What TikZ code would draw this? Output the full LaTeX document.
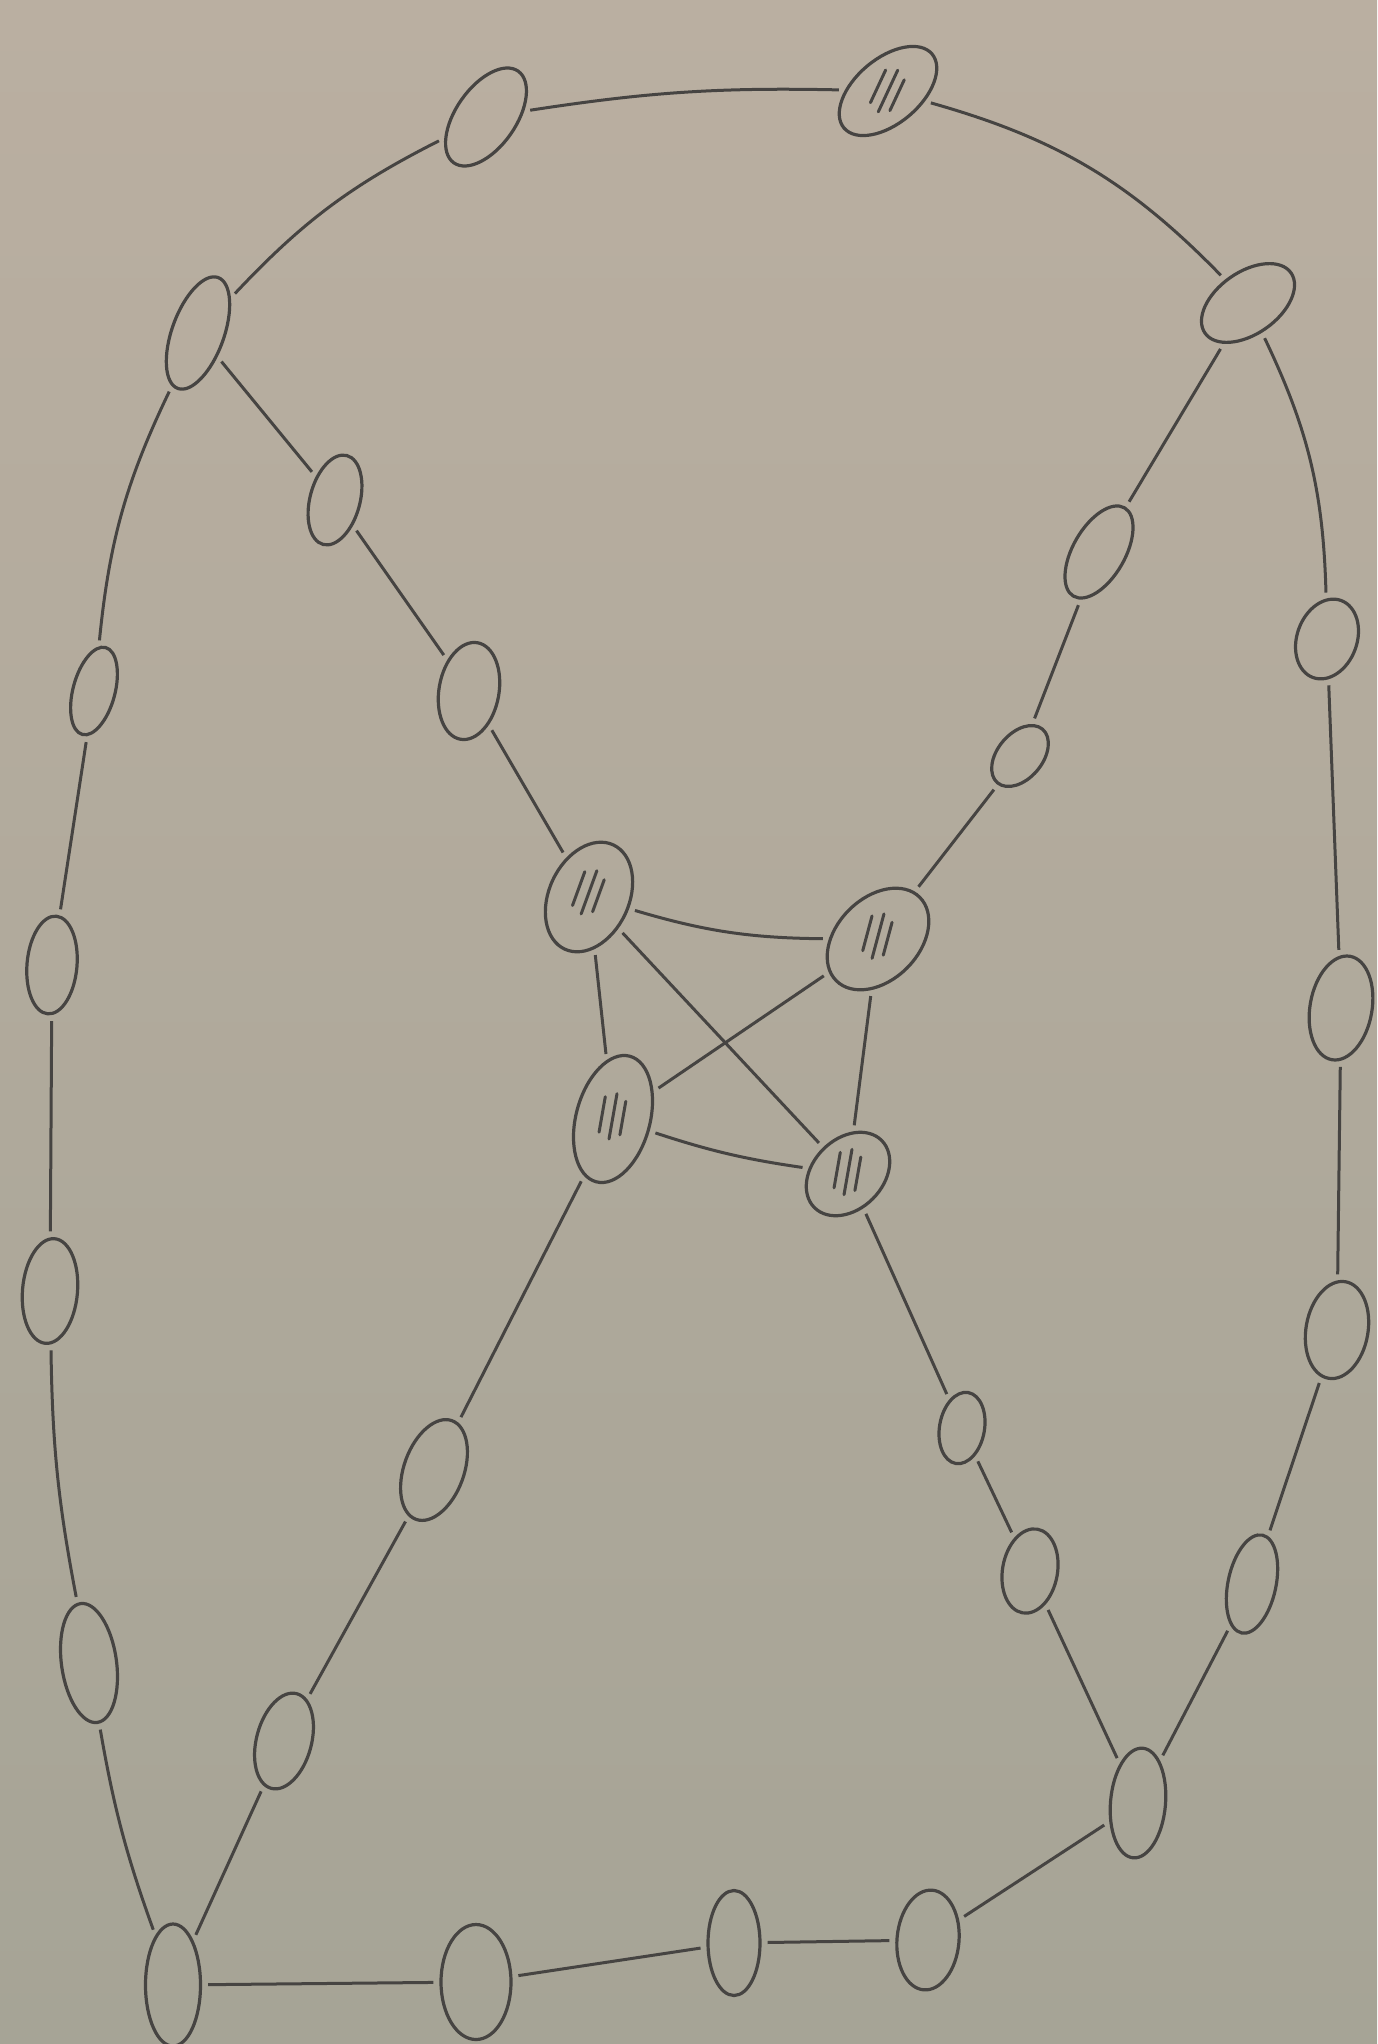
\documentclass[tikz,border=0pt]{standalone}
\usetikzlibrary{shapes.geometric}
\definecolor{ink}{RGB}{70,68,66}
\definecolor{papertop}{RGB}{186,175,161}
\definecolor{paperbot}{RGB}{166,164,150}
\begin{document}
\begin{tikzpicture}[x=0.5pt,y=-0.5pt,
  nd/.style={ellipse, draw=ink, line width=1.6pt, inner sep=0pt},
  sz/.style 2 args={minimum width=#1*0.5pt, minimum height=#2*0.5pt},
  hatch/.style={path picture={\draw[ink,line width=1.5pt,line cap=round]
     ([shift={(#1:-5.5pt)},shift={(270+#1:9pt)}]path picture bounding box.center) -- ++(90+#1:18pt)
     ([shift={(270+#1:11.5pt)}]path picture bounding box.center) -- ++(90+#1:23pt)
     ([shift={(#1:5pt)},shift={(270+#1:8.5pt)}]path picture bounding box.center) -- ++(90+#1:17pt);}},
  ed/.style={draw=ink, line width=1.5pt, shorten <=3pt, shorten >=3pt}]
\shade[top color=papertop, bottom color=paperbot] (0,0) rectangle (1377,2044);
\useasboundingbox (0,0) rectangle (1377,2044);
% nodes
\node[nd, sz={60}{112}, rotate=-35] (n1) at (486,117) {};
\node[nd, hatch=25, sz={65}{115}, rotate=-50] (n2) at (888,91) {};
\node[nd, sz={62}{105}, rotate=-55] (n3) at (1248,303) {};
\node[nd, sz={52}{118}, rotate=-20] (n4) at (198,333) {};
\node[nd, sz={50}{92}, rotate=-15] (n5) at (335,500) {};
\node[nd, sz={52}{102}, rotate=-30] (n6) at (1099,552) {};
\node[nd, sz={60}{82}, rotate=-20] (n7) at (1327,639) {};
\node[nd, sz={42}{90}, rotate=-15] (n8) at (94,691) {};
\node[nd, sz={60}{98}, rotate=-10] (n9) at (469,691) {};
\node[nd, sz={45}{70}, rotate=-40] (n10) at (1020,756) {};
\node[nd, hatch=5, sz={80}{115}, rotate=-25] (n11) at (589,897) {};
\node[nd, hatch=30, sz={82}{118}, rotate=-45] (n12) at (878,939) {};
\node[nd, sz={50}{98}, rotate=-5] (n13) at (52,965) {};
\node[nd, sz={62}{105}, rotate=-10] (n14) at (1341,1008) {};
\node[nd, hatch=5, sz={74}{130}, rotate=-15] (n15) at (613,1119) {};
\node[nd, hatch=35, sz={70}{95}, rotate=-45] (n16) at (848,1174) {};
\node[nd, sz={55}{105}, rotate=-5] (n17) at (50,1291) {};
\node[nd, sz={62}{98}, rotate=-10] (n18) at (1337,1330) {};
\node[nd, sz={45}{72}, rotate=-10] (n19) at (962,1428) {};
\node[nd, sz={60}{105}, rotate=-20] (n20) at (434,1470) {};
\node[nd, sz={55}{85}, rotate=-10] (n21) at (1030,1571) {};
\node[nd, sz={48}{100}, rotate=-12] (n22) at (1252,1584) {};
\node[nd, sz={55}{120}, rotate=8] (n23) at (89,1663) {};
\node[nd, sz={55}{98}, rotate=-15] (n24) at (284,1741) {};
\node[nd, sz={55}{110}, rotate=-5] (n25) at (1138,1803) {};
\node[nd, sz={55}{122}, rotate=0] (n26) at (173,1985) {};
\node[nd, sz={70}{115}, rotate=0] (n27) at (476,1982) {};
\node[nd, sz={52}{105}, rotate=0] (n28) at (734,1943) {};
\node[nd, sz={62}{100}, rotate=-5] (n29) at (928,1940) {};
% outer loop
\draw[ed] (n1) to[bend left=5] (n2);
\draw[ed] (n2) to[bend left=15] (n3);
\draw[ed] (n1) to[bend right=10] (n4);
\draw[ed] (n4) to[bend right=10] (n8);
\draw[ed] (n8) -- (n13);
\draw[ed] (n13) -- (n17);
\draw[ed] (n17) to[bend right=5] (n23);
\draw[ed] (n23) to[bend right=5] (n26);
\draw[ed] (n26) -- (n27);
\draw[ed] (n27) -- (n28);
\draw[ed] (n28) -- (n29);
\draw[ed] (n29) -- (n25);
\draw[ed] (n3) to[bend left=12] (n7);
\draw[ed] (n7) -- (n14);
\draw[ed] (n14) -- (n18);
\draw[ed] (n18) -- (n22);
\draw[ed] (n22) -- (n25);
% inner chains
\draw[ed] (n4) -- (n5);
\draw[ed] (n5) -- (n9);
\draw[ed] (n9) -- (n11);
\draw[ed] (n3) -- (n6);
\draw[ed] (n6) -- (n10);
\draw[ed] (n10) -- (n12);
\draw[ed] (n26) -- (n24);
\draw[ed] (n24) -- (n20);
\draw[ed] (n20) -- (n15);
\draw[ed] (n25) -- (n21);
\draw[ed] (n21) -- (n19);
\draw[ed] (n19) -- (n16);
% central clique
\draw[ed] (n11) to[bend right=8] (n12);
\draw[ed] (n11) -- (n15);
\draw[ed] (n11) -- (n16);
\draw[ed] (n15) -- (n12);
\draw[ed] (n15) to[bend right=5] (n16);
\draw[ed] (n12) -- (n16);
\end{tikzpicture}
\end{document}
